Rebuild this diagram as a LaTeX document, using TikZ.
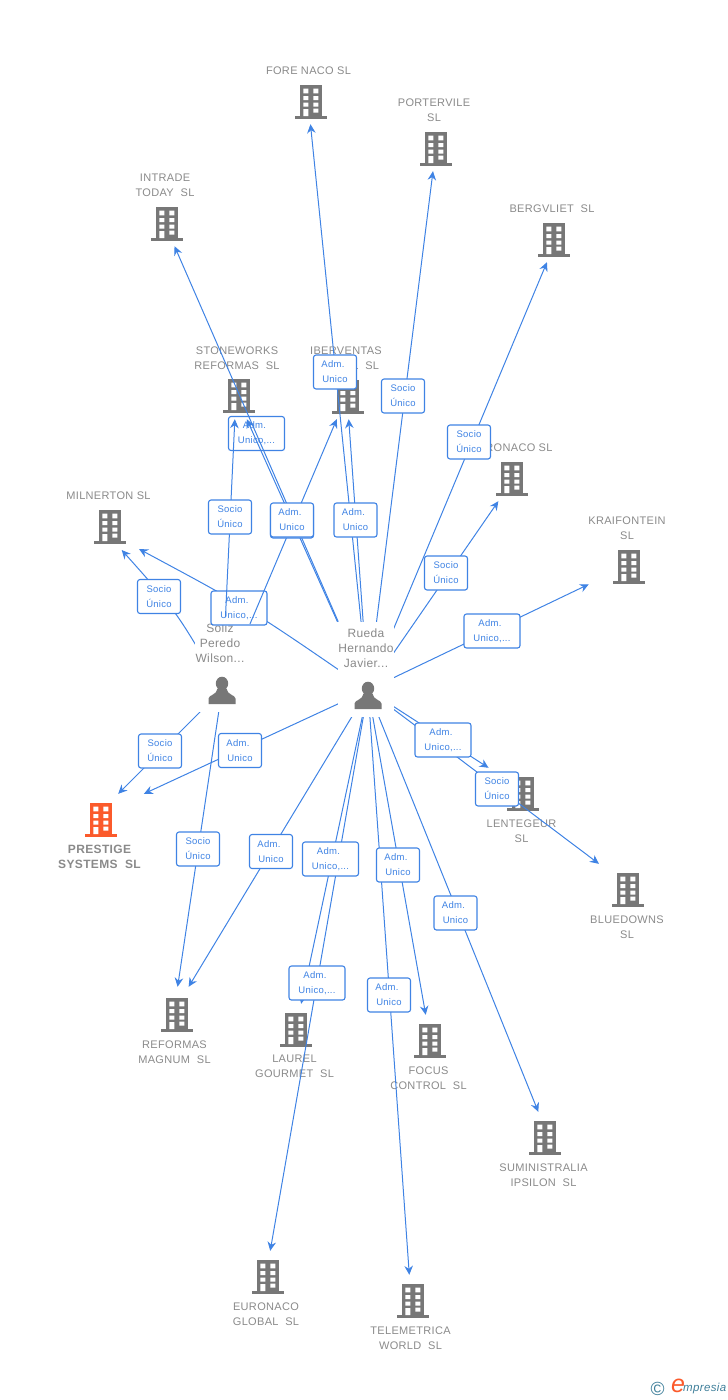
\documentclass[tikz,border=0pt]{standalone}
\usepackage{fontspec}
\setmainfont[LetterSpace=3]{Liberation Sans}
\usetikzlibrary{arrows.meta}
\definecolor{linkblue}{HTML}{3F83E4}
\definecolor{icongray}{HTML}{777777}
\definecolor{namegray}{HTML}{8A8A8A}
\definecolor{hotorange}{HTML}{FB5A2B}
\definecolor{logoteal}{HTML}{3F7F9A}
\tikzset{
	office/.style={minimum width=80pt,minimum height=48pt,inner sep=0pt},
	nameup/.style={inner sep=0pt,yshift=1pt,align=center,text=namegray,font=\fontsize{11}{15}\selectfont},
	namedown/.style={inner sep=0pt,yshift=-3pt,align=center,text=namegray,font=\fontsize{11}{15}\selectfont},
	persondot/.style={inner sep=0pt,minimum size=0pt},
	personmask/.style={fill=white,inner sep=0pt},
	personname/.style={align=center,inner sep=0pt,text=namegray,font=\fontsize{12}{15}\selectfont},
	link/.style={->,draw=linkblue,line width=1pt},
	tag/.style={draw=linkblue,fill=white,line width=1.1pt,rounded corners=2.5pt,inner sep=0pt,minimum height=34pt,align=center,text=linkblue,font=\fontsize{9.5}{15}\selectfont},
	tagshort/.style={tag,minimum width=43pt},
	taglong/.style={tag,minimum width=56pt},
	pics/officeicon/.style={code={
		\fill[#1] (-11,-17) rectangle (11,15);
		\fill[#1] (-16,14) rectangle (16,17);
		\fill[white] (-7.7,-13.3) rectangle (-2.7,-8.7)
		(2.3,-13.3) rectangle (7.3,-8.7)
		(-7.7,-6) rectangle (-2.7,-2)
		(2.3,-6) rectangle (7.3,-2)
		(-7.7,.7) rectangle (-2.7,4.7)
		(2.3,.7) rectangle (7.3,4.7)
		(-7.7,7) rectangle (-2.7,14)
		(2.3,6.7) rectangle (7.3,10.7);
	}},
	pics/officeicon/.default=icongray,
	pics/personicon/.style={code={
		\fill[icongray] (0,-7) ellipse (6.2 and 6.8);
		\fill[icongray] (-13.5,13.5)--(-13.5,8) .. controls (-13.5,4.5) and (-5,4.5) .. (-4.5,-2)--(4.5,-2) .. controls (5,4.5) and (13.5,4.5) .. (13.5,8)--(13.5,13.5)--cycle;
	}}
}
\begin{document}
\begin{tikzpicture}[x=1pt,y=-1pt,>={Stealth[length=9pt,width=8.5pt,inset=3pt]},line join=round]
	\useasboundingbox (0,0) rectangle (728,1400);
	%Cong ty phia tren
	\node[office,label={[nameup,xshift=.5pt]above:FORE NACO SL}] (fore) at (308,100) {};
	\pic at (311,102) {officeicon};
	\node[office,label={[nameup,xshift=-2pt]above:PORTERVILE\\SL}] (porter) at (436,147) {};
	\pic at (436,149) {officeicon};
	\node[office,label={[nameup,xshift=1pt]above:INTRADE\\TODAY~~SL}] (intrade) at (164,222) {};
	\pic at (167,224) {officeicon};
	\node[office,label={[nameup,xshift=-5pt]above:BERGVLIET~~SL}] (bergv) at (557,238) {};
	\pic at (554,240) {officeicon};
	\node[office,label={[nameup,xshift=1pt]above:STONEWORKS\\REFORMAS~~SL}] (stone) at (236,395) {};
	\pic at (239,396) {officeicon};
	\node[office,label={[nameup,xshift=-1pt]above:IBERVENTAS\\GLOBAL~~SL}] (iber) at (347,395) {};
	\pic at (348,397) {officeicon};
	\node[office,label={[nameup,xshift=-4pt]above:EURONACO SL}] (onaco) at (515,477) {};
	\pic at (512,479) {officeicon};
	\node[office,label={[nameup,xshift=1.5pt]above:MILNERTON SL}] (milner) at (107,525) {};
	\pic at (110,527) {officeicon};
	\node[office,label={[nameup,xshift=-2pt]above:KRAIFONTEIN\\SL}] (kraif) at (629,565) {};
	\pic at (629,567) {officeicon};
	%Cong ty phia duoi
	\node[office,label={[namedown,xshift=-4.5pt]below:LENTEGEUR\\SL}] (lente) at (526,792) {};
	\pic at (523,794) {officeicon};
	\node[office,label={[namedown,xshift=-4pt]below:BLUEDOWNS\\SL}] (blue) at (631,888) {};
	\pic at (628,890) {officeicon};
	\node[office,minimum width=96pt,minimum height=44pt,label={[namedown,xshift=3.5pt,yshift=-4pt,font=\bfseries\fontsize{12}{15}\selectfont]below:PRESTIGE\\SYSTEMS~~SL}] (prest) at (96,816) {};
	\pic at (101,820) {officeicon=hotorange};
	\node[office,label={[namedown,xshift=.5pt,yshift=-2pt]below:REFORMAS\\MAGNUM~~SL}] (refor) at (174,1011) {};
	\pic at (177,1015) {officeicon};
	\node[office,label={[namedown,xshift=-1.5pt]below:LAUREL\\GOURMET~~SL}] (laurel) at (296,1028) {};
	\pic at (296,1030) {officeicon};
	\node[office,label={[namedown,xshift=-1.5pt]below:FOCUS\\CONTROL~~SL}] (focus) at (430,1039) {};
	\pic at (430,1041) {officeicon};
	\node[office,label={[namedown,xshift=-4.5pt]below:SUMINISTRALIA\\IPSILON~~SL}] (sumin) at (548,1136) {};
	\pic at (545,1138) {officeicon};
	\node[office,label={[namedown]below:EURONACO\\GLOBAL~~SL}] (eurog) at (266,1275) {};
	\pic at (268,1277) {officeicon};
	\node[office,label={[namedown,xshift=-.5pt]below:TELEMETRICA\\WORLD~~SL}] (telem) at (411,1299) {};
	\pic at (413,1301) {officeicon};
	%Hai nguoi
	\node[persondot] (rueda) at (368,690) {};
	\node[persondot] (soliz) at (222,690) {};
	\coordinate (milnertip) at (139,549);
	\coordinate (milnertop) at (121.7,550);
	%Duong noi tu Rueda
	\draw[link] (rueda)--(fore);
	\draw[link] (rueda)--(porter);
	\draw[link] (rueda)--(bergv);
	\draw[link] (rueda)--(iber);
	\draw[link] (rueda)--(onaco);
	\draw[link] (rueda) .. controls (249,608) .. (milnertip);
	\draw[link] (rueda)--(kraif);
	\draw[link] (rueda)--(lente);
	\draw[link] (rueda)--(blue);
	\draw[link] (rueda)--(prest);
	\draw[link] (rueda)--(refor);
	\draw[link] (rueda)--(laurel);
	\draw[link] (rueda)--(focus);
	\draw[link] (rueda)--(sumin);
	\draw[link] (rueda)--(eurog);
	\draw[link] (rueda)--(telem);
	%Duong noi tu Soliz
	\draw[link] (soliz) .. controls (177,612) .. (milnertop);
	\draw[link] (soliz)--(prest);
	\draw[link] (soliz)--(refor);
	%Ten nguoi
	\node[personmask,minimum width=56.5pt,minimum height=95pt] (ruedamask) at (366.2,669.2) {};
	\node[personmask,minimum width=55pt,minimum height=90pt] (solizmask) at (222.5,667) {};
	\node[personname] (ruedaname) at (366,648) {Rueda\\Hernando\\Javier...};
	\node[personname] (solizname) at (220,643) {Soliz\\Peredo\\Wilson...};
	\pic at ([yshift=-5.5pt]rueda) {personicon};
	\pic at ([yshift=-.5pt]soliz) {personicon};
	%Nhan nam duoi duong noi
	\node[taglong] (t4) at (256.5,433.5) {Adm.\kern4pt\\Unico,...};
	\node[taglong] (t11) at (239,608) {Adm.\kern4pt\\Unico,...};
	%Duong noi nam tren hai nhan do
	\draw[link,shorten <=74.5pt] (rueda)--(stone);
	\draw[link,shorten <=74.3pt] (rueda)--(intrade);
	\draw[link,shorten <=73pt] (soliz)--(stone);
	\draw[link,shorten <=71.5pt] (soliz)--(iber);
	%Nhan tren duong noi
	\node[tagshort] (t1) at (335,372) {Adm.\kern4pt\\Unico};
	\node[tagshort] (t2) at (403,396) {Socio\\Único};
	\node[tagshort] (t3) at (469,442) {Socio\\Único};
	\node[tagshort] (t5) at (230,517) {Socio\\Único};
	\node[tagshort] (t6) at (292,521) {Adm.\kern4pt\\Unico};
	\node[tagshort] (t7) at (292,520) {Adm.\kern4pt\\Unico};
	\node[tagshort] (t8) at (355.5,520) {Adm.\kern4pt\\Unico};
	\node[tagshort] (t9) at (446,573) {Socio\\Único};
	\node[tagshort] (t10) at (159,596.5) {Socio\\Único};
	\node[taglong] (t12) at (492,631) {Adm.\kern4pt\\Unico,...};
	\node[taglong] (t13) at (443,740) {Adm.\kern4pt\\Unico,...};
	\node[tagshort] (t14) at (240,750.5) {Adm.\kern4pt\\Unico};
	\node[tagshort] (t15) at (160,751) {Socio\\Único};
	\node[tagshort] (t16) at (497,789) {Socio\\Único};
	\node[tagshort] (t17) at (198,849) {Socio\\Único};
	\node[tagshort] (t18) at (271,851.5) {Adm.\kern4pt\\Unico};
	\node[taglong] (t19) at (330.5,859) {Adm.\kern4pt\\Unico,...};
	\node[tagshort] (t20) at (398,865) {Adm.\kern4pt\\Unico};
	\node[tagshort] (t21) at (455.5,913) {Adm.\kern4pt\\Unico};
	\node[taglong] (t22) at (317,983) {Adm.\kern4pt\\Unico,...};
	\node[tagshort] (t23) at (389,995) {Adm.\kern4pt\\Unico};
	%Logo
	\node[inner sep=0pt,text=logoteal,font=\fontsize{19}{19}\selectfont] (logoc) at (657.5,1389) {©};
	\node[inner sep=0pt,text=hotorange,font=\itshape\fontsize{25}{25}\selectfont] (logoe) at (678,1386) {e};
	\node[inner sep=0pt,text=logoteal,font=\itshape\fontsize{11.5}{12}\selectfont,anchor=west] (logot) at (683,1389) {mpresia};
\end{tikzpicture}
\end{document}
